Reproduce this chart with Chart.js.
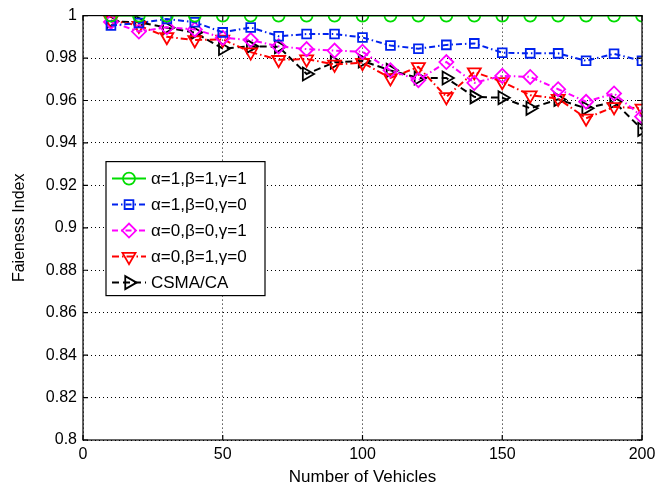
<!DOCTYPE html>
<html>
<head>
<meta charset="utf-8">
<script src="https://cdn.jsdelivr.net/npm/chart.js@4.4.1/dist/chart.umd.min.js"></script>
<style>
  html, body { margin: 0; padding: 0; background: #fff; }
  #wrap { width: 671px; height: 489px; }
</style>
</head>
<body>
<div id="wrap"><canvas id="chart"></canvas></div>
<script>
// Verileri
const vehicles = [10, 20, 30, 40, 50, 60, 70, 80, 90, 100, 110, 120, 130, 140, 150, 160, 170, 180, 190, 200];

const seriesLabels = ['α=1,β=1,γ=1', 'α=1,β=0,γ=0', 'α=0,β=0,γ=1', 'α=0,β=1,γ=0', 'CSMA/CA'];

const fairA111 = [1, 1, 1, 1, 1, 1, 1, 1, 1, 1, 1, 1, 1, 1, 1, 1, 1, 1, 1, 1];
const fairA100 = [0.9953, 0.9965, 0.9984, 0.9969, 0.9921, 0.9944, 0.9903, 0.9913, 0.9913, 0.9897,
                  0.9859, 0.9844, 0.9862, 0.9869, 0.9825, 0.9822, 0.9822, 0.9787, 0.9820, 0.9787];
const fairA001 = [0.9970, 0.9925, 0.9945, 0.9935, 0.9895, 0.9885, 0.9855, 0.9842, 0.9835, 0.9830,
                  0.9742, 0.9696, 0.9781, 0.9683, 0.9716, 0.9711, 0.9653, 0.9594, 0.9633, 0.9524];
const fairA010 = [0.9977, 0.9953, 0.9900, 0.9885, 0.9888, 0.9828, 0.9792, 0.9795, 0.9770, 0.9778,
                  0.9706, 0.9758, 0.9617, 0.9734, 0.9688, 0.9625, 0.9609, 0.9516, 0.9570, 0.9563];
const fairCSMA = [0.9973, 0.9969, 0.9943, 0.9920, 0.9845, 0.9855, 0.9853, 0.9725, 0.9780, 0.9786,
                  0.9742, 0.9706, 0.9706, 0.9617, 0.9613, 0.9563, 0.9605, 0.9563, 0.9594, 0.9464];

const xTicks = [0, 50, 100, 150, 200];
const yTicks = [0.8, 0.82, 0.84, 0.86, 0.88, 0.9, 0.92, 0.94, 0.96, 0.98, 1];
const yTickLabels = ['0.8', '0.82', '0.84', '0.86', '0.88', '0.9', '0.92', '0.94', '0.96', '0.98', '1'];

const FONT = '"Liberation Sans", Arial, Helvetica, sans-serif';

function makeSet(label, values, color, style, radius, rotation, dash) {
    return {
        label: label,
        data: vehicles.map((v, i) => ({ x: v, y: values[i] })),
        borderColor: color,
        backgroundColor: 'transparent',
        borderWidth: 2,
        borderDash: dash,
        pointStyle: style,
        pointRadius: radius,
        pointRotation: rotation,
        pointBorderColor: color,
        pointBackgroundColor: 'transparent',
        pointBorderWidth: 1.8,
        fill: false,
        tension: 0
    };
}

// Çerçeve ve içe dönük tik çizgileri
const boxPlugin = {
    id: 'box',
    afterDraw(chart) {
        const ctx = chart.ctx;
        const a = chart.chartArea;
        const xs = chart.scales.x, ys = chart.scales.y;
        ctx.save();
        ctx.strokeStyle = '#000';
        ctx.lineWidth = 1.2;
        ctx.setLineDash([]);
        ctx.strokeRect(a.left, a.top, a.right - a.left, a.bottom - a.top);
        ctx.beginPath();
        xTicks.forEach(t => {
            const px = xs.getPixelForValue(t);
            ctx.moveTo(px, a.bottom); ctx.lineTo(px, a.bottom - 5);
            ctx.moveTo(px, a.top); ctx.lineTo(px, a.top + 5);
        });
        yTicks.forEach(t => {
            const py = ys.getPixelForValue(t);
            ctx.moveTo(a.left, py); ctx.lineTo(a.left + 5, py);
            ctx.moveTo(a.right, py); ctx.lineTo(a.right - 5, py);
        });
        ctx.stroke();
        ctx.restore();
    }
};

// Grafik içindeki lejant kutusu
const legendPlugin = {
    id: 'boxLegend',
    afterDraw(chart) {
        const ctx = chart.ctx;
        const a = chart.chartArea;
        const bx = a.left + 23, by = a.top + 146, bw = 159, bh = 134;
        ctx.save();
        ctx.fillStyle = '#fff';
        ctx.fillRect(bx, by, bw, bh);
        ctx.strokeStyle = '#000';
        ctx.lineWidth = 1.2;
        ctx.setLineDash([]);
        ctx.strokeRect(bx, by, bw, bh);
        ctx.font = '17px ' + FONT;
        ctx.textBaseline = 'middle';
        chart.data.datasets.forEach((ds, i) => {
            const cy = by + 17 + i * 26;
            ctx.strokeStyle = ds.borderColor;
            ctx.lineWidth = ds.borderWidth;
            ctx.setLineDash(ds.borderDash || []);
            ctx.beginPath();
            ctx.moveTo(bx + 6, cy);
            ctx.lineTo(bx + 40, cy);
            ctx.stroke();
            ctx.setLineDash([]);
            ctx.lineWidth = ds.pointBorderWidth;
            ctx.fillStyle = 'rgba(0,0,0,0)';
            Chart.helpers.drawPoint(ctx, {
                pointStyle: ds.pointStyle,
                rotation: ds.pointRotation,
                radius: ds.pointRadius,
                borderWidth: ds.pointBorderWidth
            }, bx + 23, cy);
            ctx.fillStyle = '#000';
            ctx.fillText(ds.label, bx + 45, cy + 1);
        });
        ctx.restore();
    }
};

new Chart(document.getElementById('chart'), {
    type: 'line',
    data: {
        datasets: [
            makeSet(seriesLabels[0], fairA111, '#00dd00', 'circle', 6, 0, []),
            makeSet(seriesLabels[1], fairA100, '#0022ee', 'rect', 6.2, 0, [6, 3, 1.5, 3]),
            makeSet(seriesLabels[2], fairA001, '#ff00ff', 'rectRot', 7, 0, [6, 3, 1.5, 3]),
            makeSet(seriesLabels[3], fairA010, '#ff0000', 'triangle', 7.5, 180, [7, 3, 1.5, 3]),
            makeSet(seriesLabels[4], fairCSMA, '#000000', 'triangle', 7.5, 90, [7, 4])
        ]
    },
    options: {
        responsive: true,
        maintainAspectRatio: false,
        animation: false,
        layout: { padding: { top: 13, right: 29, left: 0, bottom: 0 } },
        plugins: {
            legend: { display: false },
            tooltip: { enabled: false }
        },
        scales: {
            x: {
                type: 'linear',
                min: 0,
                max: 200,
                afterFit: s => { s.height = 49; },
                afterBuildTicks: s => { s.ticks = xTicks.map(v => ({ value: v })); },
                grid: { color: '#000', lineWidth: 1, drawTicks: false },
                border: { display: false, dash: [1, 3] },
                ticks: {
                    padding: 5,
                    color: '#000',
                    font: { family: FONT, size: 16 },
                    maxRotation: 0,
                    callback: v => String(v)
                },
                title: {
                    display: true,
                    text: 'Number of Vehicles',
                    color: '#000',
                    font: { family: FONT, size: 17 },
                    padding: { top: 0, bottom: 1 }
                }
            },
            y: {
                type: 'linear',
                min: 0.8,
                max: 1,
                afterFit: s => { s.width = 83; },
                afterBuildTicks: s => { s.ticks = yTicks.map(v => ({ value: v })); },
                grid: { color: '#000', lineWidth: 1, drawTicks: false },
                border: { display: false, dash: [1, 3] },
                ticks: {
                    padding: 6,
                    color: '#000',
                    font: { family: FONT, size: 16 },
                    callback: (v, i) => yTickLabels[i]
                },
                title: {
                    display: true,
                    text: 'Faieness Index',
                    color: '#000',
                    font: { family: FONT, size: 16 },
                    padding: { top: 10, bottom: 0 }
                }
            }
        }
    },
    plugins: [boxPlugin, legendPlugin]
});
</script>
</body>
</html>
